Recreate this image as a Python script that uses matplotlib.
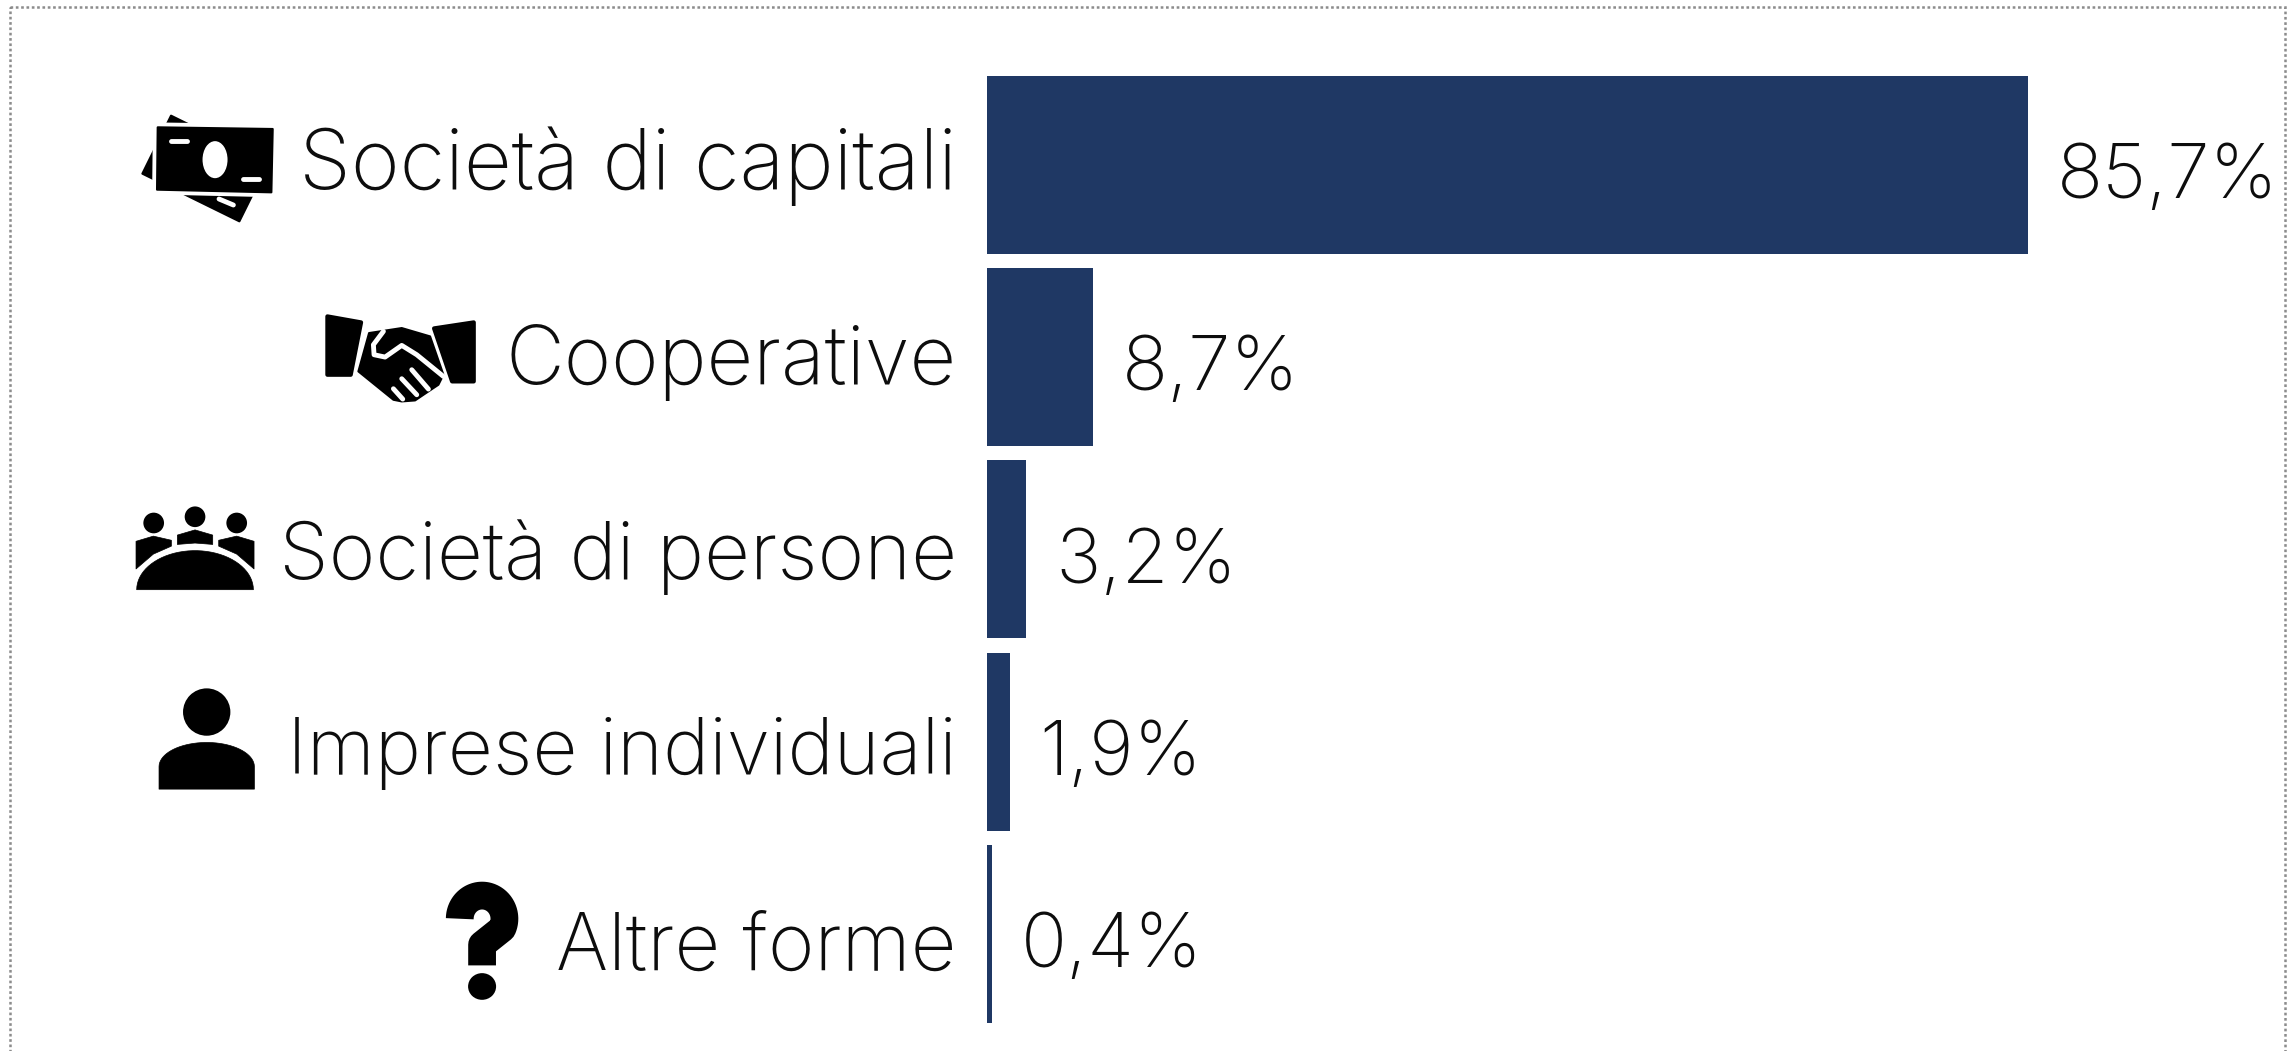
import numpy as np
import matplotlib
matplotlib.use('Agg')
from matplotlib import pyplot as plt
from matplotlib.patches import Polygon, Circle, Ellipse, Rectangle
from matplotlib.transforms import ScaledTranslation

categories = ['Società di capitali', 'Cooperative', 'Società di persone', 'Imprese individuali', 'Altre forme']
values = [85.7, 8.7, 3.2, 1.9, 0.4]
value_labels = ['85,7%', '8,7%', '3,2%', '1,9%', '0,4%']

W, H = 2293, 1051
BAR = '#1f3864'
FONT = 'Inter'
# the original face is wider than Inter, and not evenly, so each label gets its own size
LABEL_FS = [60, 58.4, 57.4, 56.3, 57.2]

plt.rcParams['font.family'] = [FONT, 'DejaVu Sans']
fig = plt.figure(figsize=((W + 0.4) / 100, (H + 0.4) / 100), dpi=100)

# overlay in pixel coordinates for the frame and the icons
bg = fig.add_axes([0, 0, 1, 1])
bg.set_xlim(0, W)
bg.set_ylim(H, 0)
bg.axis('off')

# bars
left, right = 987, W
top, bottom = 69, 1030
ax = fig.add_axes([left / W, 1 - bottom / H, (right - left) / W, (bottom - top) / H])
ax.patch.set_alpha(0)
ax.barh(range(len(values)), values, height=0.925, color=BAR)
ax.set_xlim(0, (right - left) / 12.14)
ax.set_ylim(len(values) - 0.5, -0.5)
ax.set_yticks(range(len(values)))
ax.set_yticklabels(categories, fontweight='light', color='#0d0d0d')
ax.tick_params(axis='y', length=0, pad=22)
ax.set_xticks([])
for s in ax.spines.values():
    s.set_visible(False)
# labels drift a little lower than the bars going down
for i, lab in enumerate(ax.get_yticklabels()):
    lab.set_fontsize(LABEL_FS[i])
    lab.set_va('baseline')
    lab.set_transform(lab.get_transform() + ScaledTranslation(0, -(24 + 2.75 * i) / 100, fig.dpi_scale_trans))
for i, v in enumerate(values):
    ax.annotate(value_labels[i], (v, i), xytext=(21, -23.8), textcoords='offset points',
                va='baseline', ha='left', fontsize=55, fontweight='light', color='#0d0d0d')

# dotted frame
bg.add_patch(Rectangle((10, 7), 2275, 1100, fill=False, ec='#8c8c8c', lw=1.8, ls=(0, (1.07, 1.06))))


def add_poly(pts, ox, oy, color='black', lw=1.5, sy=1 / 3):
    pts = [(ox + x / 3, oy + y * sy) for x, y in pts]
    bg.add_patch(Polygon(pts, closed=True, fc=color, ec=color, lw=lw, joinstyle='round'))


def add_line(pts, ox, oy, lw, color='white', cap='round', sy=1 / 3):
    xs = [ox + p[0] / 3 for p in pts]
    ys = [oy + p[1] * sy for p in pts]
    bg.plot(xs, ys, color=color, lw=lw, solid_capstyle=cap, solid_joinstyle='round')


def arc(cx, cy, rx, ry, a0, a1, n=40):
    t = np.radians(np.linspace(a0, a1, n))
    return list(zip(cx + rx * np.cos(t), cy + ry * np.sin(t)))


# banknotes
ox, oy = 100, 80
add_poly([(213, 108), (127, 282), (418, 425), (504, 251)], ox, oy)
add_poly([(173, 143), (518, 148), (514, 338), (171, 330)], ox, oy, lw=7, color='white')
add_poly([(173, 143), (518, 148), (514, 338), (171, 330)], ox, oy)
add_line([(357, 358), (400, 376)], ox, oy, 3.5)
bg.add_patch(Ellipse((ox + 345 / 3, oy + 240 / 3), 25, 37, fc='white', ec='none'))
add_line([(212, 183), (260, 183)], ox, oy, 3.5)
add_line([(429, 297), (477, 297)], ox, oy, 3.5)

# handshake
add_poly([(682, 710), (783, 728), (752, 885), (682, 885)], ox, oy, lw=3)
add_poly([(1002, 746), (1121, 728), (1121, 905), (1056, 905)], ox, oy, lw=3)
add_poly([(807, 760), (905, 745), (990, 770), (1030, 885), (1015, 915), (985, 935),
          (945, 962), (905, 965), (880, 960), (775, 875)], ox, oy)
add_line([(850, 755), (820, 795), (822, 825), (855, 832), (905, 797), (950, 825), (1030, 890)], ox, oy, 3.5)
add_line([(935, 870), (985, 928)], ox, oy, 3.5)
add_line([(905, 897), (950, 945)], ox, oy, 3.5)
add_line([(880, 927), (908, 958)], ox, oy, 3.5)

# table and people (this crop reads slightly compressed vertically)
ox, oy = 100, 480
sy = 0.3455
for cx, cy in [(161, 125), (285, 107), (410, 125)]:
    bg.add_patch(Circle((ox + cx / 3, oy + cy * sy), 31 / 3, fc='black', ec='none'))
add_poly(arc(285, 318, 175, 113, 180, 360), ox, oy, lw=0.5, sy=sy)
add_poly([(108, 258), (108, 178), (160, 163), (214, 175), (214, 192), (160, 215)], ox, oy, lw=0.5, sy=sy)
add_poly([(462, 258), (462, 178), (410, 163), (356, 175), (356, 192), (410, 215)], ox, oy, lw=0.5, sy=sy)
add_poly([(232, 187), (232, 160), (285, 145), (338, 160), (338, 187), (285, 183)], ox, oy, lw=0.5, sy=sy)

# person
bg.add_patch(Circle((ox + 320 / 3, oy + 672 * sy), 71 / 3, fc='black', ec='none'))
add_poly([(177, 895)] + arc(320, 830, 143, 70, 180, 360) + [(463, 895)], ox, oy, lw=0.5, sy=sy)

# question mark
add_line(arc(1146, 1270, 67, 67, 180, 385) + [(1146, 1345), (1146, 1405)], ox, oy, 20,
         color='black', cap='butt', sy=sy)
bg.add_patch(Ellipse((ox + 1146 / 3, oy + 1466 * sy), 84 / 3, 80 / 3, fc='black', ec='none'))

fig.savefig('out.png', dpi=100, facecolor='white')
